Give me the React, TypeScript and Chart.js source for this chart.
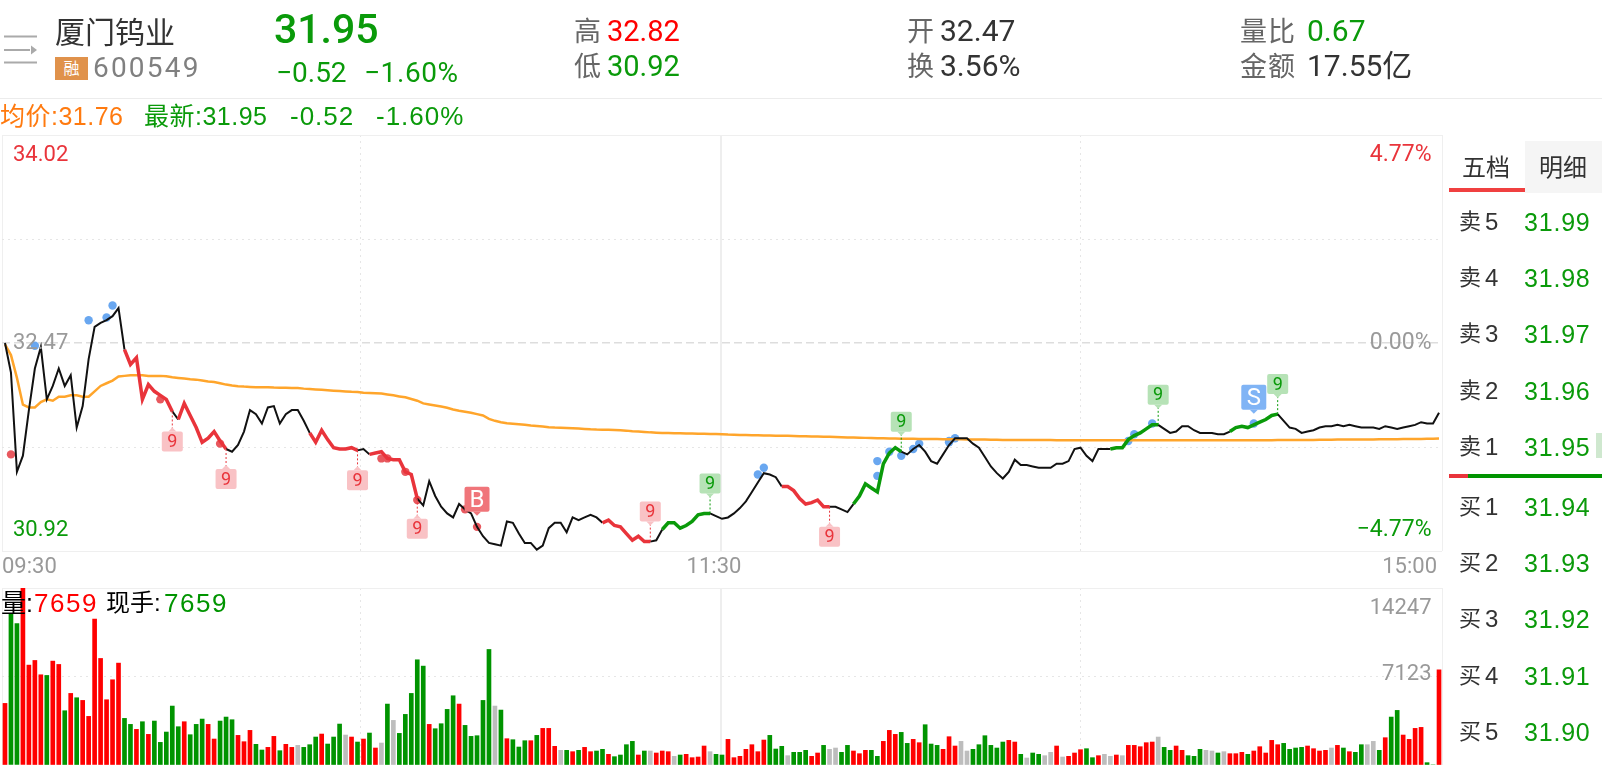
import React, { useEffect, useRef } from "react";
import { Chart, registerables } from "chart.js";

Chart.register(...registerables);

const prices = [
  32.47, 32.25, 31.51, 31.63, 31.97, 32.28, 32.44, 32.05, 32.15, 32.28,
  32.15, 32.23, 31.84, 32.0, 32.35, 32.59, 32.62, 32.64, 32.67, 32.73,
  32.42, 32.31, 32.36, 32.05, 32.16, 32.11, 32.08, 32.05, 31.96, 31.9,
  32.02, 31.93, 31.84, 31.73, 31.76, 31.81, 31.74, 31.68, 31.66, 31.71,
  31.81, 31.97, 31.94, 31.87, 31.99, 32.0, 31.87, 31.94, 31.97, 31.97,
  31.89, 31.8, 31.73, 31.82, 31.75, 31.69, 31.68, 31.68, 31.69, 31.67,
  31.68, 31.64, 31.65, 31.66, 31.61, 31.6, 31.6, 31.51, 31.49, 31.31,
  31.26, 31.44, 31.33, 31.25, 31.2, 31.17, 31.27, 31.23, 31.2, 31.1,
  31.03, 30.98, 30.97, 30.96, 31.14, 31.13, 31.05, 30.98, 30.98, 30.93,
  30.96, 31.09, 31.13, 31.13, 31.06, 31.17, 31.15, 31.17, 31.19, 31.17,
  31.13, 31.15, 31.11, 31.1, 31.05, 31.0, 31.03, 30.99, 30.99, 31.0,
  31.08, 31.13, 31.13, 31.09, 31.11, 31.14, 31.19, 31.2, 31.2, 31.18,
  31.16, 31.17, 31.2, 31.24, 31.29, 31.36, 31.43, 31.5, 31.49, 31.47,
  31.4, 31.4, 31.37, 31.31, 31.27, 31.28, 31.3, 31.25, 31.25, 31.25,
  31.23, 31.21, 31.27, 31.33, 31.42, 31.39, 31.36, 31.57, 31.65, 31.69,
  31.66, 31.64, 31.68, 31.71, 31.66, 31.59, 31.57, 31.64, 31.71, 31.76,
  31.76, 31.76, 31.72, 31.69, 31.62, 31.55, 31.5, 31.46, 31.51, 31.6,
  31.56, 31.56, 31.55, 31.54, 31.54, 31.54, 31.57, 31.57, 31.59, 31.68,
  31.69, 31.63, 31.59, 31.68, 31.68, 31.68, 31.69, 31.69, 31.75, 31.78,
  31.8, 31.83, 31.86, 31.86, 31.83, 31.8, 31.81, 31.85, 31.85, 31.82,
  31.8, 31.8, 31.8, 31.79, 31.79, 31.81, 31.84, 31.85, 31.84, 31.86,
  31.88, 31.9, 31.93, 31.94, 31.89, 31.84, 31.83, 31.8, 31.81, 31.82,
  31.84, 31.85, 31.85, 31.86, 31.85, 31.86, 31.85, 31.84, 31.84, 31.84,
  31.83, 31.85, 31.84, 31.83, 31.84, 31.85, 31.86, 31.88, 31.87, 31.87,
  31.95,
];

const averages = [
  32.46, 32.38, 32.21, 32.01, 31.99, 31.99, 32.03, 32.05, 32.04, 32.07,
  32.07, 32.08, 32.08, 32.07, 32.07, 32.11, 32.15, 32.17, 32.19, 32.22,
  32.225, 32.23, 32.23, 32.23, 32.225, 32.225, 32.225, 32.222, 32.215, 32.21,
  32.205, 32.2, 32.197, 32.19, 32.183, 32.18, 32.17, 32.16, 32.153, 32.148,
  32.145, 32.143, 32.14, 32.14, 32.14, 32.138, 32.137, 32.136, 32.135, 32.134,
  32.13, 32.127, 32.124, 32.121, 32.118, 32.115, 32.112, 32.109, 32.106, 32.104,
  32.1, 32.098, 32.096, 32.093, 32.087, 32.08, 32.072, 32.065, 32.053, 32.04,
  32.02, 32.012, 32.005, 31.997, 31.988, 31.975, 31.965, 31.957, 31.95, 31.94,
  31.93, 31.905, 31.89, 31.88, 31.872, 31.868, 31.864, 31.86, 31.855, 31.852,
  31.848, 31.843, 31.84, 31.838, 31.836, 31.834, 31.832, 31.83, 31.827, 31.825,
  31.824, 31.823, 31.822, 31.82, 31.817, 31.813, 31.81, 31.807, 31.804, 31.802,
  31.8, 31.8, 31.798, 31.797, 31.796, 31.795, 31.794, 31.793, 31.792, 31.791,
  31.79, 31.788, 31.787, 31.785, 31.784, 31.783, 31.782, 31.781, 31.78, 31.779,
  31.778, 31.778, 31.777, 31.776, 31.775, 31.774, 31.773, 31.772, 31.771, 31.77,
  31.768, 31.766, 31.765, 31.764, 31.763, 31.762, 31.761, 31.76, 31.759, 31.758,
  31.757, 31.756, 31.756, 31.755, 31.755, 31.754, 31.754, 31.753, 31.753, 31.752,
  31.752, 31.751, 31.751, 31.75, 31.75, 31.749, 31.749, 31.748, 31.748, 31.748,
  31.747, 31.747, 31.747, 31.747, 31.747, 31.747, 31.746, 31.746, 31.746, 31.746,
  31.746, 31.746, 31.746, 31.746, 31.745, 31.745, 31.745, 31.745, 31.745, 31.745,
  31.745, 31.745, 31.745, 31.745, 31.745, 31.745, 31.745, 31.745, 31.745, 31.745,
  31.745, 31.745, 31.745, 31.745, 31.745, 31.745, 31.745, 31.745, 31.745, 31.745,
  31.746, 31.746, 31.746, 31.747, 31.747, 31.747, 31.748, 31.748, 31.748, 31.748,
  31.749, 31.749, 31.749, 31.75, 31.75, 31.75, 31.751, 31.751, 31.751, 31.751,
  31.752, 31.752, 31.753, 31.753, 31.754, 31.754, 31.755, 31.755, 31.756, 31.757,
  31.758,
];

const volumes = [
  4958, 12194, 11390, 14247, 8040, 8415, 7263, 7209, 8362, 8094,
  4368, 5762, 5414, 5199, 3913, 11738, 8576, 5253, 6861, 8201,
  3752, 3270, 2868, 3484, 2466, 3538, 1822, 2653, 4744, 3082,
  3484, 2439, 3270, 3698, 3270, 2090, 3538, 3859, 3645, 2385,
  1876, 2787, 1662, 1206, 1420, 2305, 1152, 1662, 1420, 1581,
  1420, 1635, 2251, 2492, 1688, 2251, 3296, 2412, 2251, 1849,
  2090, 2573, 1367, 1769, 4904, 3591, 2546, 4074, 5762, 8469,
  7960, 3270, 2921, 3323, 4476, 5574, 4904, 3189, 2305, 2358,
  5199, 9300, 4744, 4422, 2117, 2037, 1447, 1956, 1956, 2385,
  2948, 2948, 1501, 1179, 1179, 1072, 1179, 1420, 1072, 1126,
  1260, 858, 670, 804, 1635, 1903, 804, 1126, 1126, 965,
  1126, 1072, 697, 804, 858, 590, 643, 1528, 1072, 858,
  804, 2064, 590, 697, 1260, 1635, 1072, 2010, 2385, 1286,
  1501, 750, 1018, 1018, 1179, 697, 965, 1581, 1260, 1367,
  1018, 1581, 1126, 911, 1179, 1179, 697, 1903, 2787, 2466,
  2626, 1742, 2064, 1796, 3243, 1688, 1581, 1260, 2278, 1528,
  1903, 1126, 1260, 1635, 2358, 1581, 1367, 1849, 1983, 1849,
  858, 563, 965, 858, 750, 1018, 1528, 643, 697, 965,
  1233, 1313, 590, 750, 858, 697, 804, 750, 1581, 1581,
  1474, 1796, 1849, 2251, 1420, 1179, 1528, 1179, 750, 697,
  1260, 1179, 1126, 965, 1072, 911, 911, 1018, 858, 1126,
  1474, 965, 1983, 1635, 1742, 1260, 1367, 1420, 1528, 1313,
  1126, 1179, 1367, 1581, 1367, 1072, 1018, 1635, 1635, 1903,
  1179, 2198, 3859, 4395, 2412, 2064, 2948, 3028, 188, 0,
  7659,
];

const volumeSideList = [
  "r","g","g","r","r","r","r","g","r","r",
  "g","r","g","r","r","r","r","r","r","r",
  "g","g","r","g","r","g","g","g","g","g",
  "r","g","g","g","r","r","g","g","g","r",
  "r","r","g","g","r","r","g","r","r","k",
  "g","g","g","r","g","g","g","k","r","g",
  "r","g","r","k","g","k","g","g","g","g",
  "g","r","g","g","g","g","r","g","g","g",
  "g","g","k","g","r","g","g","g","r","g",
  "r","r","r","k","g","r","g","r","r","g",
  "g","r","g","g","g","g","r","g","k","r",
  "r","r","k","g","r","r","r","r","k","g",
  "g","r","r","r","r","r","r","r","g","g",
  "g","k","g","g","g","r","r","g","k","k",
  "g","g","r","r","r","g","g","r","r","r",
  "g","g","r","r","g","g","g","r","r","r",
  "k","k","g","g","g","g","g","g","r","r",
  "g","k","g","g","k","k","r","k","r","r",
  "r","g","g","r","k","k","r","k","r","r",
  "r","r","r","k","g","g","r","r","g","g",
  "g","k","k","g","k","r","r","r","g","r",
  "r","r","r","r","g","g","g","g","r","r",
  "r","r","k","r","g","r","g","g","k","k",
  "g","r","g","g","r","r","r","r","g","g",
  "r",
];

const redRuns = [[20, 28], [29, 37], [51, 59], [61, 69], [100, 108], [130, 138]];
const greenRuns = [[110, 118], [142, 150], [185, 193], [205, 213]];

const redDots = [[1, 31.64], [26, 32.05], [36, 31.72], [63, 31.61], [64, 31.61], [67, 31.51], [69, 31.3], [77, 31.23], [79, 31.1]];
const blueDots = [
  [5, 32.45], [14, 32.64], [17, 32.66], [18, 32.75], [126, 31.49], [127, 31.54],
  [146, 31.59], [146, 31.48], [148, 31.66], [150, 31.63], [152, 31.68], [153, 31.72],
  [158, 31.74], [158, 31.73], [159, 31.76], [188, 31.74], [189, 31.79], [192, 31.87], [209, 31.87],
];

const nineRed = [[28, 1], [37, 1], [59, 1], [69, 1], [108, -1], [138, 1]];
const nineGreen = [[118, -1], [150, -1], [193, -1], [213, -1]];
const buySell = [{ i: 79, text: "B", color: "#f0757a" }, { i: 209, text: "S", color: "#80b4f5" }];

const priceTicks = [34.02, 32.47, 30.92];
const pctTicks = ["4.77%", "0.00%", "−4.77%"];
const priceGrid = [30.92, 31.695, 32.47, 33.245, 34.02];
const timeTicks = ["09:30", "11:30", "15:00"];
const xGrid = [-0.5, 59.5, 119.8, 180, 240.5];
const volGrid = [0, 7123, 14247];

const minuteLabels: string[] = [];
for (let m = 570; m <= 900; m++) {
  if (m > 690 && m <= 780) continue;
  minuteLabels.push(`${String(Math.floor(m / 60)).padStart(2, "0")}:${String(m % 60).padStart(2, "0")}`);
}

const askRows = [["卖", "5", "31.99"], ["卖", "4", "31.98"], ["卖", "3", "31.97"], ["卖", "2", "31.96"], ["卖", "1", "31.95"]];
const bidRows = [["买", "1", "31.94"], ["买", "2", "31.93"], ["买", "3", "31.92"], ["买", "4", "31.91"], ["买", "5", "31.90"]];

const RED = "#e9343b";
const GREEN = "#0a9a0a";
const BARCOLOR: Record<string, string> = { r: "#ff0000", g: "#009400", k: "#bdbdbd" };
const FONT = 'Roboto, "Noto Sans CJK SC", sans-serif';
const SFONT = '"Liberation Sans", "Noto Sans CJK SC", sans-serif';

const inRuns = (runs: number[][], i: number) => runs.some(([a, b]) => i >= a && i < b);

const dotData = (list: number[][]) => list.map(([i, v]) => ({ x: minuteLabels[i], y: v }));

function roundRect(ctx: CanvasRenderingContext2D, x: number, y: number, w: number, h: number, r: number) {
  ctx.beginPath();
  ctx.roundRect(x, y, w, h, r);
  ctx.fill();
}

const overlay = {
  id: "overlay",
  afterDatasetsDraw(chart: any) {
    const { ctx, scales } = chart;
    const x = scales.x;
    const y = scales.y;
    ctx.save();
    const drawNine = (i: number, dir: number, color: string, bg: string) => {
      const px = x.getPixelForValue(i);
      const py = y.getPixelForValue(prices[i]);
      const near = py + dir * 20;
      const cy = near + dir * 10;
      ctx.strokeStyle = color;
      ctx.lineWidth = 1;
      ctx.setLineDash([2, 2]);
      ctx.beginPath();
      ctx.moveTo(px, py);
      ctx.lineTo(px, near);
      ctx.stroke();
      ctx.setLineDash([]);
      ctx.fillStyle = bg;
      ctx.beginPath();
      ctx.moveTo(px - 4, near);
      ctx.lineTo(px, near - dir * 4);
      ctx.lineTo(px + 4, near);
      ctx.fill();
      roundRect(ctx, px - 10.5, cy - 10, 21, 20, 2);
      ctx.fillStyle = color;
      ctx.font = "18px Roboto";
      ctx.textAlign = "center";
      ctx.textBaseline = "middle";
      ctx.fillText("9", px, cy + 1);
    };
    nineRed.forEach(([i, d]) => drawNine(i, d, RED, "#f9c2c5"));
    nineGreen.forEach(([i, d]) => drawNine(i, d, GREEN, "#b6e2b6"));
    buySell.forEach(({ i, text, color }) => {
      const px = x.getPixelForValue(i);
      const py = y.getPixelForValue(prices[i]);
      const bottom = py - 15;
      ctx.fillStyle = color;
      roundRect(ctx, px - 12.5, bottom - 25, 25, 25, 2);
      ctx.beginPath();
      ctx.moveTo(px - 4, bottom);
      ctx.lineTo(px, bottom + 4);
      ctx.lineTo(px + 4, bottom);
      ctx.fill();
      ctx.fillStyle = "#fff";
      ctx.font = "24px Roboto";
      ctx.textAlign = "center";
      ctx.textBaseline = "middle";
      ctx.fillText(text, px, bottom - 11);
    });
    const priceColors = [RED, "#9a9a9a", GREEN];
    const yShift = [20.5, 0, -20.5];
    ctx.textBaseline = "middle";
    priceTicks.forEach((v, k) => {
      const py = y.getPixelForValue(v) + yShift[k];
      ctx.fillStyle = priceColors[k];
      ctx.font = "22px Roboto";
      ctx.textAlign = "left";
      ctx.fillText(v.toFixed(2), 13, py);
      ctx.font = "23px Roboto";
      ctx.textAlign = "right";
      ctx.fillText(pctTicks[k], 1431.5, py);
    });
    ctx.font = "22px Roboto";
    ctx.fillStyle = "#999";
    const labelY = chart.chartArea.bottom + 16;
    ctx.textAlign = "left";
    ctx.fillText(timeTicks[0], 2, labelY);
    ctx.textAlign = "center";
    ctx.fillText(timeTicks[1], x.getPixelForValue(120) - 8, labelY);
    ctx.textAlign = "right";
    ctx.fillText(timeTicks[2], 1437, labelY);
    ctx.restore();
  },
};

const volOverlay = {
  id: "volOverlay",
  afterDatasetsDraw(chart: any) {
    const { ctx, scales } = chart;
    const y = scales.y;
    ctx.save();
    ctx.font = "22px Roboto";
    ctx.fillStyle = "#999";
    ctx.textAlign = "right";
    ctx.textBaseline = "middle";
    ctx.fillText(String(volGrid[2]), 1431.5, y.getPixelForValue(volGrid[2]) + 20);
    ctx.fillText(String(volGrid[1]), 1431.5, y.getPixelForValue(volGrid[1]) - 2);
    ctx.restore();
  },
};

const xScale = () => ({
  type: "category",
  offset: true,
  afterBuildTicks: (s: any) => {
    s.ticks = xGrid.map((v) => ({ value: v }));
  },
  ticks: { display: false, autoSkip: false, callback: () => "" },
  grid: {
    offset: false,
    drawTicks: false,
    color: (c: any) => (c.index === 2 ? "#eeeeee" : c.index === 0 || c.index === 4 ? "#efefef" : "#e6e6e6"),
    lineWidth: (c: any) => (c.index === 2 ? 2 : 1),
  },
  border: { display: false, dash: (c: any) => (c.index === 1 || c.index === 3 ? [2, 4] : []) },
});

const T = ({ x, y, s, c, f = FONT, w, ls, children }: any) => (
  <div
    style={{
      position: "absolute",
      left: x,
      top: y,
      transform: "translateY(-50%)",
      fontSize: s,
      color: c,
      fontFamily: f,
      fontWeight: w || 400,
      letterSpacing: ls,
      lineHeight: 1,
      whiteSpace: "pre",
    }}
  >
    {children}
  </div>
);

function App() {
  const priceRef = useRef<HTMLCanvasElement>(null);
  const volRef = useRef<HTMLCanvasElement>(null);

  useEffect(() => {
    const priceChart = new Chart(priceRef.current as HTMLCanvasElement, {
      type: "line",
      data: {
        labels: minuteLabels,
        datasets: [
          {
            label: "最新",
            data: prices,
            borderColor: "#111",
            borderWidth: 2,
            pointRadius: 0,
            tension: 0,
            segment: {
              borderColor: (c: any) =>
                inRuns(redRuns, c.p0DataIndex) ? RED : inRuns(greenRuns, c.p0DataIndex) ? GREEN : "#111",
              borderWidth: (c: any) =>
                inRuns(redRuns, c.p0DataIndex) || inRuns(greenRuns, c.p0DataIndex) ? 3.5 : 2,
            },
          },
          { label: "均价", data: averages, borderColor: "#ffa52b", borderWidth: 2.5, pointRadius: 0, tension: 0 },
          { label: "b", data: dotData(redDots), showLine: false, pointRadius: 4.2, pointBackgroundColor: "#e8585e", pointBorderWidth: 0 },
          { label: "s", data: dotData(blueDots), showLine: false, pointRadius: 4.2, pointBackgroundColor: "#69a7f0", pointBorderWidth: 0 },
        ],
      } as any,
      options: {
        animation: false,
        responsive: false,
        devicePixelRatio: 1,
        events: [],
        layout: { autoPadding: false, padding: { left: 2, top: 135, right: 160, bottom: 29 } },
        plugins: { legend: { display: false }, tooltip: { enabled: false } },
        scales: {
          x: xScale(),
          y: {
            min: priceGrid[0],
            max: priceGrid[4],
            afterBuildTicks: (s: any) => {
              s.ticks = priceGrid.map((v) => ({ value: v }));
            },
            ticks: { display: false },
            grid: {
              drawTicks: false,
              color: (c: any) => (c.index === 2 ? "#dddddd" : c.index === 0 || c.index === 4 ? "#efefef" : "#e6e6e6"),
              lineWidth: (c: any) => (c.index === 2 ? 1.5 : 1),
            },
            border: {
              display: false,
              dash: (c: any) => (c.index === 2 ? [8, 4] : c.index === 1 || c.index === 3 ? [2, 4] : []),
            },
          },
        },
      } as any,
      plugins: [overlay],
    } as any);

    const volChart = new Chart(volRef.current as HTMLCanvasElement, {
      type: "bar",
      data: {
        labels: minuteLabels,
        datasets: [
          {
            label: "量",
            data: volumes,
            backgroundColor: volumeSideList.map((s) => BARCOLOR[s]),
            borderWidth: 0,
            barThickness: 4,
          },
        ],
      } as any,
      options: {
        animation: false,
        responsive: false,
        devicePixelRatio: 1,
        events: [],
        layout: { autoPadding: false, padding: { left: 2, top: 8, right: 160, bottom: 3 } },
        plugins: { legend: { display: false }, tooltip: { enabled: false } },
        scales: {
          x: xScale(),
          y: {
            min: volGrid[0],
            max: volGrid[2],
            afterBuildTicks: (s: any) => {
              s.ticks = volGrid.map((v) => ({ value: v }));
            },
            ticks: { display: false },
            grid: {
              drawTicks: false,
              color: (c: any) => (c.index === 0 ? "rgba(0,0,0,0)" : c.index === 2 ? "#efefef" : "#e6e6e6"),
            },
            border: { display: false, dash: (c: any) => (c.index === 1 ? [2, 4] : []) },
          },
        },
      } as any,
      plugins: [volOverlay],
    } as any);

    return () => {
      priceChart.destroy();
      volChart.destroy();
    };
  }, []);

  return (
    <div style={{ position: "fixed", left: 0, top: 0, width: 1602, height: 768, background: "#fff", overflow: "hidden" }}>
      <canvas ref={priceRef} width={1602} height={580} style={{ position: "absolute", left: 0, top: 0, width: 1602, height: 580 }} />
      <canvas ref={volRef} width={1602} height={188} style={{ position: "absolute", left: 0, top: 580, width: 1602, height: 188 }} />

      <svg width="40" height="40" style={{ position: "absolute", left: 2, top: 30 }}>
        <path d="M2 6.5H35M2 32.5H35M2 20H28" stroke="#aaa" strokeWidth="2" fill="none" />
        <path d="M29 15.5L35 20L29 24.5Z" fill="#aaa" />
      </svg>
      <T x={55} y={33} s={30} c="#333">厦门钨业</T>
      <div style={{ position: "absolute", left: 55, top: 57, width: 33, height: 23, background: "#e0924b", color: "#fff", fontFamily: FONT, fontSize: 16, lineHeight: "23px", textAlign: "center" }}>融</div>
      <T x={93} y={68} s={28} c="#808080" ls={2.2}>600549</T>
      <T x={274} y={29} s={41} c={GREEN} w={500}>31.95</T>
      <T x={276} y={73} s={28} c={GREEN}>−0.52</T>
      <T x={364} y={73} s={28} c={GREEN} ls={0.6}>−1.60%</T>

      <T x={574} y={32} s={27} c="#666">高</T>
      <T x={607} y={31} s={29} c="#ff0000">32.82</T>
      <T x={574} y={67} s={27} c="#666">低</T>
      <T x={607} y={66} s={29} c={GREEN}>30.92</T>

      <T x={907} y={32} s={27} c="#666">开</T>
      <T x={940} y={31} s={30} c="#333">32.47</T>
      <T x={907} y={67} s={27} c="#666">换</T>
      <T x={940} y={66} s={30} c="#333">3.56%</T>

      <T x={1240} y={32} s={27} c="#666" ls={1}>量比</T>
      <T x={1307} y={31} s={30} c={GREEN}>0.67</T>
      <T x={1240} y={67} s={27} c="#666" ls={1}>金额</T>
      <T x={1307} y={66} s={30} c="#333">17.55亿</T>

      <div style={{ position: "absolute", left: 0, top: 98, width: 1602, height: 1, background: "#ececec" }} />

      <T x={0} y={116} s={25} c="#ff7a0f" f={SFONT} ls={0.5}>均价:31.76</T>
      <T x={144} y={116} s={25} c={GREEN} f={SFONT} ls={0.5}>最新:31.95</T>
      <T x={290} y={116} s={26} c={GREEN} f={SFONT} ls={1}>-0.52</T>
      <T x={376} y={116} s={26} c={GREEN} f={SFONT} ls={1}>-1.60%</T>

      <T x={1} y={603} s={25} c="#000" f={SFONT}>量:</T>
      <T x={34} y={603} s={26} c="#ff0000" f={SFONT} ls={1.5}>7659</T>
      <T x={106} y={603} s={24} c="#000" f={SFONT}>现手:</T>
      <T x={164} y={603} s={26} c="#009400" f={SFONT} ls={1.5}>7659</T>

      <div style={{ position: "absolute", left: 1525, top: 141, width: 77, height: 52, background: "#f5f5f5" }} />
      <div style={{ position: "absolute", left: 1449, top: 188, width: 76, height: 4, background: "#f04040" }} />
      <T x={1462} y={168} s={24} c="#333">五档</T>
      <T x={1539} y={168} s={24} c="#333">明细</T>

      {askRows.map((r, k) => (
        <React.Fragment key={r[2]}>
          <T x={1459} y={222 + k * 56.2} s={22} c="#333">{r[0]}</T>
          <T x={1485} y={222 + k * 56.2} s={24} c="#333" f={SFONT}>{r[1]}</T>
          <T x={1524} y={222 + k * 56.2} s={25} c={GREEN} f={SFONT} ls={0.8}>{r[2]}</T>
        </React.Fragment>
      ))}
      <div style={{ position: "absolute", left: 1596, top: 433, width: 6, height: 25, background: "#cfe8cf" }} />
      <div style={{ position: "absolute", left: 1449, top: 474, width: 19, height: 4, background: RED }} />
      <div style={{ position: "absolute", left: 1468, top: 474, width: 134, height: 4, background: "#009400" }} />
      {bidRows.map((r, k) => (
        <React.Fragment key={r[2]}>
          <T x={1459} y={507 + k * 56.2} s={22} c="#333">{r[0]}</T>
          <T x={1485} y={507 + k * 56.2} s={24} c="#333" f={SFONT}>{r[1]}</T>
          <T x={1524} y={507 + k * 56.2} s={25} c={GREEN} f={SFONT} ls={0.8}>{r[2]}</T>
        </React.Fragment>
      ))}
    </div>
  );
}

export default App;
